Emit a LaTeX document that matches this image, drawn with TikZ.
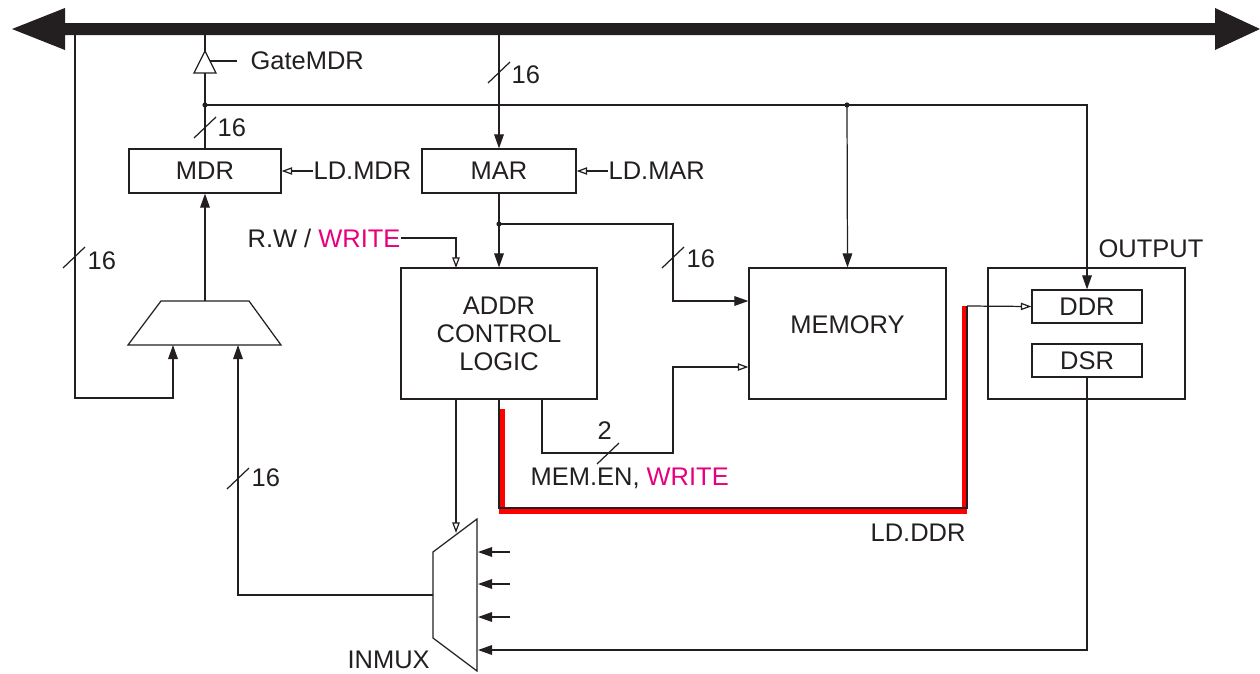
\documentclass[tikz,border=0pt]{standalone}
\usepackage{fontspec}
\setmainfont{Liberation Sans}
\usetikzlibrary{arrows.meta}
\definecolor{mag}{RGB}{230,0,126}
\definecolor{ink}{RGB}{35,31,32}
\begin{document}
\begin{tikzpicture}[x=0.02cm,y=-0.02cm,
  font=\fontsize{14.5}{16}\selectfont,
  color=ink, line width=0.7pt,
  box/.style={draw, inner sep=0pt},
  lbl/.style={inner sep=0pt, anchor=west},
  fa/.style={-{Triangle[length=8pt,width=5.5pt]}},
  oa/.style={-{Triangle[open,length=6pt,width=4.2pt]}},
  dot/.style={fill=ink, draw=none}]
\useasboundingbox (0,0) rectangle (1260,673);

% ---- bus ----
\fill[ink] (65,8) -- (12,29) -- (65,50) -- (65,35) -- (1215,35) -- (1215,50)
  -- (1260,29) -- (1215,8) -- (1215,23) -- (65,23) -- cycle;
\coordinate (busL) at (75,35);
\coordinate (busMDR) at (205,35);
\coordinate (busMAR) at (499,35);

% ---- boxes ----
\node[box, minimum width=3.04cm, minimum height=0.88cm] (MDR) at (205,171) {MDR};
\node[box, minimum width=3.08cm, minimum height=0.88cm] (MAR) at (499,171) {MAR};
\node[box, minimum width=3.92cm, minimum height=2.62cm, align=center] (ADDR) at (499,333.5) {ADDR\\CONTROL\\LOGIC};
\node[box, minimum width=3.94cm, minimum height=2.62cm] (MEM) at (847.5,333.5) {};
\node[inner sep=0pt] (memlbl) at (847.5,325) {MEMORY};
\node[box, minimum width=3.94cm, minimum height=2.62cm] (OUT) at (1086.5,333.5) {};
\node[box, minimum width=2.2cm, minimum height=0.66cm] (DDR) at (1087,306.5) {DDR};
\node[box, minimum width=2.2cm, minimum height=0.66cm] (DSR) at (1087,360.5) {DSR};
\node[lbl] (outlbl) at (1098,249) {OUTPUT};

% ---- upper mux ----
\draw (161,301) -- (249,301) -- (281,345) -- (128,345) -- cycle;
\coordinate (mxout) at (205,301);
\coordinate (mxin1) at (173,345);
\coordinate (mxin2) at (238,345);

% ---- INMUX ----
\draw (433,552) -- (477,519) -- (477,671) -- (433,638) -- cycle;
\coordinate (inmuxout) at (433,595);
\node[lbl] (inmuxlbl) at (347,660) {INMUX};

% ---- left feedback from bus ----
\draw[fa] (busL) -- (75,398) -| (mxin1);
\draw (63,268) -- (85,247);
\node[lbl] (s16a) at (87,261) {16};

% ---- mux -> MDR ----
\draw[fa] (mxout) -- (MDR.south);

% ---- MDR -> bus through GateMDR ----
\draw (MDR.north) -- (205,73);
\draw (205,51) -- (194,73) -- (216,73) -- cycle;
\draw (205,51) -- (busMDR);
\draw (210,61) -- (237,61);
\node[lbl] (gate) at (250,61) {GateMDR};
\draw (194,138) -- (216,117);
\node[lbl] (s16b) at (217,128) {16};
\node[lbl] (ldmdr) at (313,171) {LD.MDR};
\draw[oa] (ldmdr.west) -- (MDR.east);

% ---- MDR line to memory and DDR ----
\fill[dot] (205,105) circle (2.6);
\fill[dot] (847,105) circle (2.6);
\draw[fa] (205,105) -- (1087,105) -- (DDR.north);
\draw[fa] (847,105) -- (MEM.north);

% ---- bus -> MAR ----
\draw[fa] (busMAR) -- (MAR.north);
\draw (488,83) -- (510,62);
\node[lbl] (s16c) at (511,75) {16};
\node[lbl] (ldmar) at (608,171) {LD.MAR};
\draw[oa] (ldmar.west) -- (MAR.east);

% ---- MAR -> ADDR and MEMORY ----
\draw (MAR.south) -- (499,224);
\fill[dot] (499,224) circle (2.6);
\draw[fa] (499,224) -- (ADDR.north);
\coordinate (y301) at (0,301);
\draw[fa] (499,224) -- (673,224) -- (673,301) -- (MEM.west |- y301);
\draw (662,268) -- (684,247);
\node[lbl] (s16d) at (686,259) {16};

% ---- R.W / WRITE ----
\node[lbl] (rw) at (247,238) {R.W / \textcolor{mag}{WRITE}};
\coordinate (rwin) at (456,268);
\draw[oa] (rw.east) -| (rwin);

% ---- ADDR -> INMUX ----
\coordinate (addrA) at (456,399);
\draw[oa] (addrA) -- (456,533);

% ---- MEM.EN, WRITE ----
\coordinate (addrC) at (542,399);
\coordinate (y367) at (0,367);
\draw[oa] (addrC) -- (542,453) -- (673,453) -- (673,367) -- (MEM.west |- y367);
\draw (597,464) -- (619,443);
\node[lbl] (s2) at (597,431) {2};
\node[lbl] (memen) at (530,478) {MEM.EN, \textcolor{mag}{WRITE}};

% ---- LD.DDR ----
\draw[red, line width=3.2pt] (502,409) -- (502,511.5) -- (964.5,511.5) -- (964.5,306);
\coordinate (addrB) at (499,399);
\draw (addrB) -- (499,508) -- (967,508) -- (967,306);
\draw[oa] (967,306) -- (DDR.west);
\node[lbl] (ldddr) at (870,533) {LD.DDR};

% ---- DSR -> INMUX ----
\draw[fa] (DSR.south) -- (1087,650) -- (478,650);

% ---- INMUX inputs ----
\draw[fa] (510,552) -- (478,552);
\draw[fa] (510,584) -- (478,584);
\draw[fa] (510,617) -- (478,617);

% ---- INMUX -> upper mux ----
\draw[fa] (inmuxout) -- (238,595) -- (mxin2);
\draw (227,489) -- (249,468);
\node[lbl] (s16e) at (251,478) {16};
\end{tikzpicture}
\end{document}
